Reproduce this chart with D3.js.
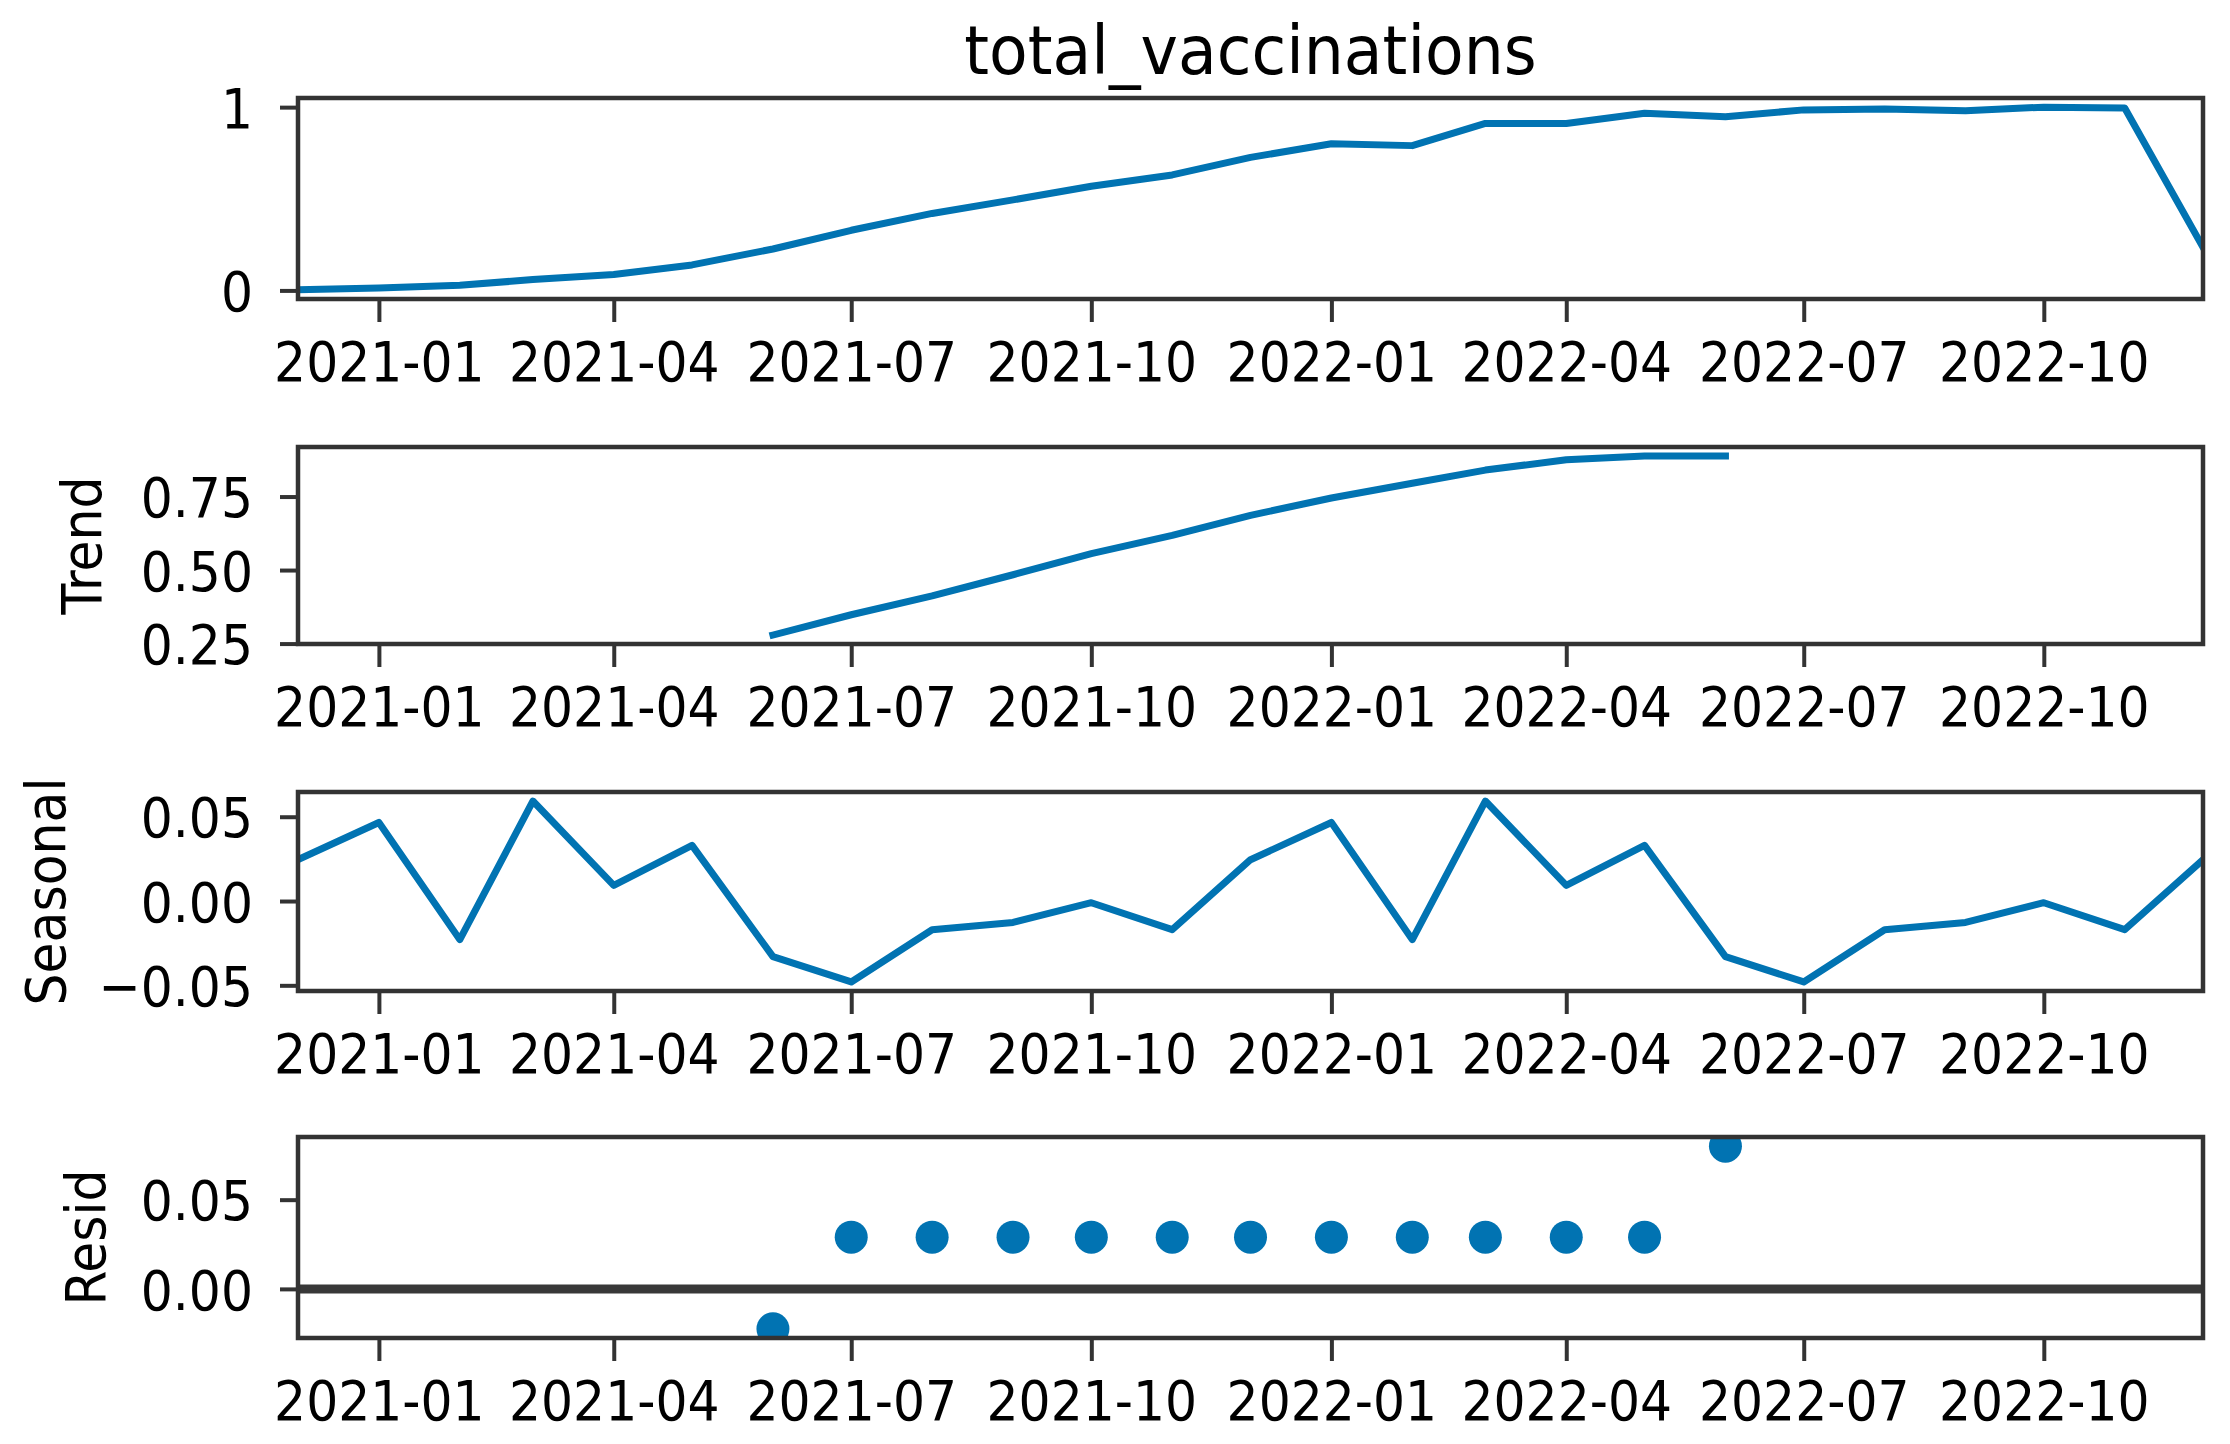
<!DOCTYPE html>
<html>
<head>
<meta charset="utf-8">
<script src="https://cdn.jsdelivr.net/npm/d3@7"></script>
<style>
    body { margin: 0; background: #fff; }
    text { font-family: "DejaVu Sans", sans-serif; }
</style>
</head>
<body>
<svg id="chart" width="2230" height="1444"></svg>
<script>
// monthly index of the decomposed series
const dates = [
    "2020-12-01", "2021-01-01", "2021-02-01", "2021-03-01", "2021-04-01", "2021-05-01",
    "2021-06-01", "2021-07-01", "2021-08-01", "2021-09-01", "2021-10-01", "2021-11-01",
    "2021-12-01", "2022-01-01", "2022-02-01", "2022-03-01", "2022-04-01", "2022-05-01",
    "2022-06-01", "2022-07-01", "2022-08-01", "2022-09-01", "2022-10-01", "2022-11-01",
    "2022-12-01"
];

const observed = [
    0.003, 0.013, 0.028, 0.059, 0.087, 0.139,
    0.226, 0.328, 0.420, 0.494, 0.568, 0.630,
    0.726, 0.800, 0.790, 0.911, 0.911, 0.967,
    0.948, 0.985, 0.990, 0.980, 1.000, 0.995,
    0.235
];

const trend = [
    null, null, null, null, null, null,
    0.279, 0.348, 0.412, 0.484, 0.556, 0.618,
    0.686, 0.745, 0.795, 0.840, 0.875, 0.888,
    0.888, null, null, null, null, null,
    null
];

const seasonal = [
    0.0245, 0.0466, -0.0229, 0.0593, 0.0093, 0.0330,
    -0.0330, -0.0480, -0.0170, -0.0127, -0.0010, -0.0170,
    0.0245, 0.0466, -0.0229, 0.0593, 0.0093, 0.0330,
    -0.0330, -0.0480, -0.0170, -0.0127, -0.0010, -0.0170,
    0.0245
];

const resid = [
    null, null, null, null, null, null,
    -0.0224, 0.029, 0.029, 0.029, 0.029, 0.029,
    0.029, 0.029, 0.029, 0.029, 0.029, 0.029,
    0.080, null, null, null, null, null,
    null
];

const xTickLabels = ["2021-01", "2021-04", "2021-07", "2021-10", "2022-01", "2022-04", "2022-07", "2022-10"];
const observedTicks = [0, 1];
const trendTicks = [0.25, 0.5, 0.75];
const seasonalTicks = [-0.05, 0, 0.05];
const residTicks = [0, 0.05];

const TITLE = "total_vaccinations";

// layout (pixels)
const LEFT = 298;
const RIGHT = 2203;
const TOPS = [98, 447, 792, 1137];
const BOTTOMS = [299, 644, 991, 1338];
const FONT_SIZE = 56;
const SQUEEZE = 0.9; // glyphs in the picture are a bit narrower than DejaVu
const COLOR = {
    line: '#0173b2',
    spine: '#333333',
    zero: '#383838',
    text: '#000000',
};

const parse = d3.utcParse("%Y-%m-%d");
const parseMonth = d3.utcParse("%Y-%m");
const xDates = dates.map(parse);
const xTickDates = xTickLabels.map(parseMonth);

const panels = [
    { label: null, values: observed, kind: 'line', ticks: observedTicks, fmt: d3.format('d') },
    { label: 'Trend', values: trend, kind: 'line', ticks: trendTicks, fmt: d3.format('.2f'), gap: 40 },
    { label: 'Seasonal', values: seasonal, kind: 'line', ticks: seasonalTicks, fmt: d3.format('.2f'), gap: 34 },
    { label: 'Resid', values: resid, kind: 'dots', ticks: residTicks, fmt: d3.format('.2f'), gap: 36, zero: true },
];

const svg = d3.select('#chart');
svg.append('rect').attr('width', 2230).attr('height', 1444).attr('fill', '#fff');

const x = d3.scaleUtc()
    .domain(d3.extent(xDates))
    .range([LEFT, RIGHT]);

panels.forEach((p, i) => {
    const top = TOPS[i];
    const bottom = BOTTOMS[i];
    const rows = xDates.map((d, k) => ({ date: d, v: p.values[k] }));
    const defined = rows.filter(r => r.v != null);

    // matplotlib style 5% margins
    const [lo, hi] = d3.extent(defined, r => r.v);
    const pad = (hi - lo) * 0.05;
    const y = d3.scaleLinear()
        .domain([lo - pad, hi + pad])
        .range([bottom, top]);

    const g = svg.append('g');

    g.append('clipPath')
        .attr('id', 'clip' + i)
        .append('rect')
        .attr('x', LEFT)
        .attr('y', top)
        .attr('width', RIGHT - LEFT)
        .attr('height', bottom - top);

    const plot = g.append('g').attr('clip-path', `url(#clip${i})`);

    if (p.zero) {
        plot.append('line')
            .attr('x1', LEFT)
            .attr('x2', RIGHT)
            .attr('y1', y(0))
            .attr('y2', y(0))
            .attr('stroke', COLOR.zero)
            .attr('stroke-width', 9);
    }

    if (p.kind === 'line') {
        const line = d3.line()
            .defined(r => r.v != null)
            .x(r => x(r.date))
            .y(r => y(r.v));
        plot.append('path')
            .datum(rows)
            .attr('d', line)
            .attr('fill', 'none')
            .attr('stroke', COLOR.line)
            .attr('stroke-width', 7)
            .attr('stroke-linejoin', 'round')
            .attr('stroke-linecap', 'square');
    } else {
        plot.selectAll('circle')
            .data(defined)
            .enter().append('circle')
            .attr('cx', r => x(r.date))
            .attr('cy', r => y(r.v))
            .attr('r', 16.5)
            .attr('fill', COLOR.line);
    }

    // x axis
    const xAxis = g.append('g')
        .attr('transform', `translate(0,${bottom})`)
        .call(d3.axisBottom(x)
            .tickValues(xTickDates)
            .tickFormat(d3.utcFormat('%Y-%m'))
            .tickSize(23)
            .tickPadding(0))
        .attr('font-size', FONT_SIZE)
        .attr('font-family', 'DejaVu Sans');
    xAxis.select('.domain').remove();
    xAxis.selectAll('.tick line')
        .attr('stroke', COLOR.spine)
        .attr('stroke-width', 4);
    xAxis.selectAll('.tick text')
        .attr('y', null)
        .attr('dy', null)
        .attr('fill', COLOR.text)
        .attr('transform', `translate(0,82) scale(${SQUEEZE},1)`);

    // y axis
    const yAxis = g.append('g')
        .attr('transform', `translate(${LEFT},0)`)
        .call(d3.axisLeft(y)
            .tickValues(p.ticks)
            .tickFormat(p.fmt)
            .tickSize(18)
            .tickPadding(0))
        .attr('font-size', FONT_SIZE)
        .attr('font-family', 'DejaVu Sans');
    yAxis.select('.domain').remove();
    yAxis.selectAll('.tick line')
        .attr('stroke', COLOR.spine)
        .attr('stroke-width', 4);
    yAxis.selectAll('.tick text')
        .attr('x', null)
        .attr('dy', '0.36em')
        .attr('fill', COLOR.text)
        .attr('transform', `translate(-45,0) scale(${SQUEEZE},1)`);

    // spines on top of the data
    g.append('rect')
        .attr('x', LEFT)
        .attr('y', top)
        .attr('width', RIGHT - LEFT)
        .attr('height', bottom - top)
        .attr('fill', 'none')
        .attr('stroke', COLOR.spine)
        .attr('stroke-width', 4.5);

    if (p.label) {
        const box = yAxis.node().getBBox();
        const lx = LEFT + box.x - p.gap;
        g.append('text')
            .attr('transform', `translate(${lx},${(top + bottom) / 2}) rotate(-90) scale(${SQUEEZE},1)`)
            .attr('text-anchor', 'middle')
            .attr('font-size', FONT_SIZE)
            .attr('fill', COLOR.text)
            .text(p.label);
    }
});

svg.append('text')
    .attr('transform', `translate(${(LEFT + RIGHT) / 2},74) scale(0.93,1)`)
    .attr('text-anchor', 'middle')
    .attr('font-size', 68)
    .attr('fill', COLOR.text)
    .text(TITLE);
</script>
</body>
</html>
